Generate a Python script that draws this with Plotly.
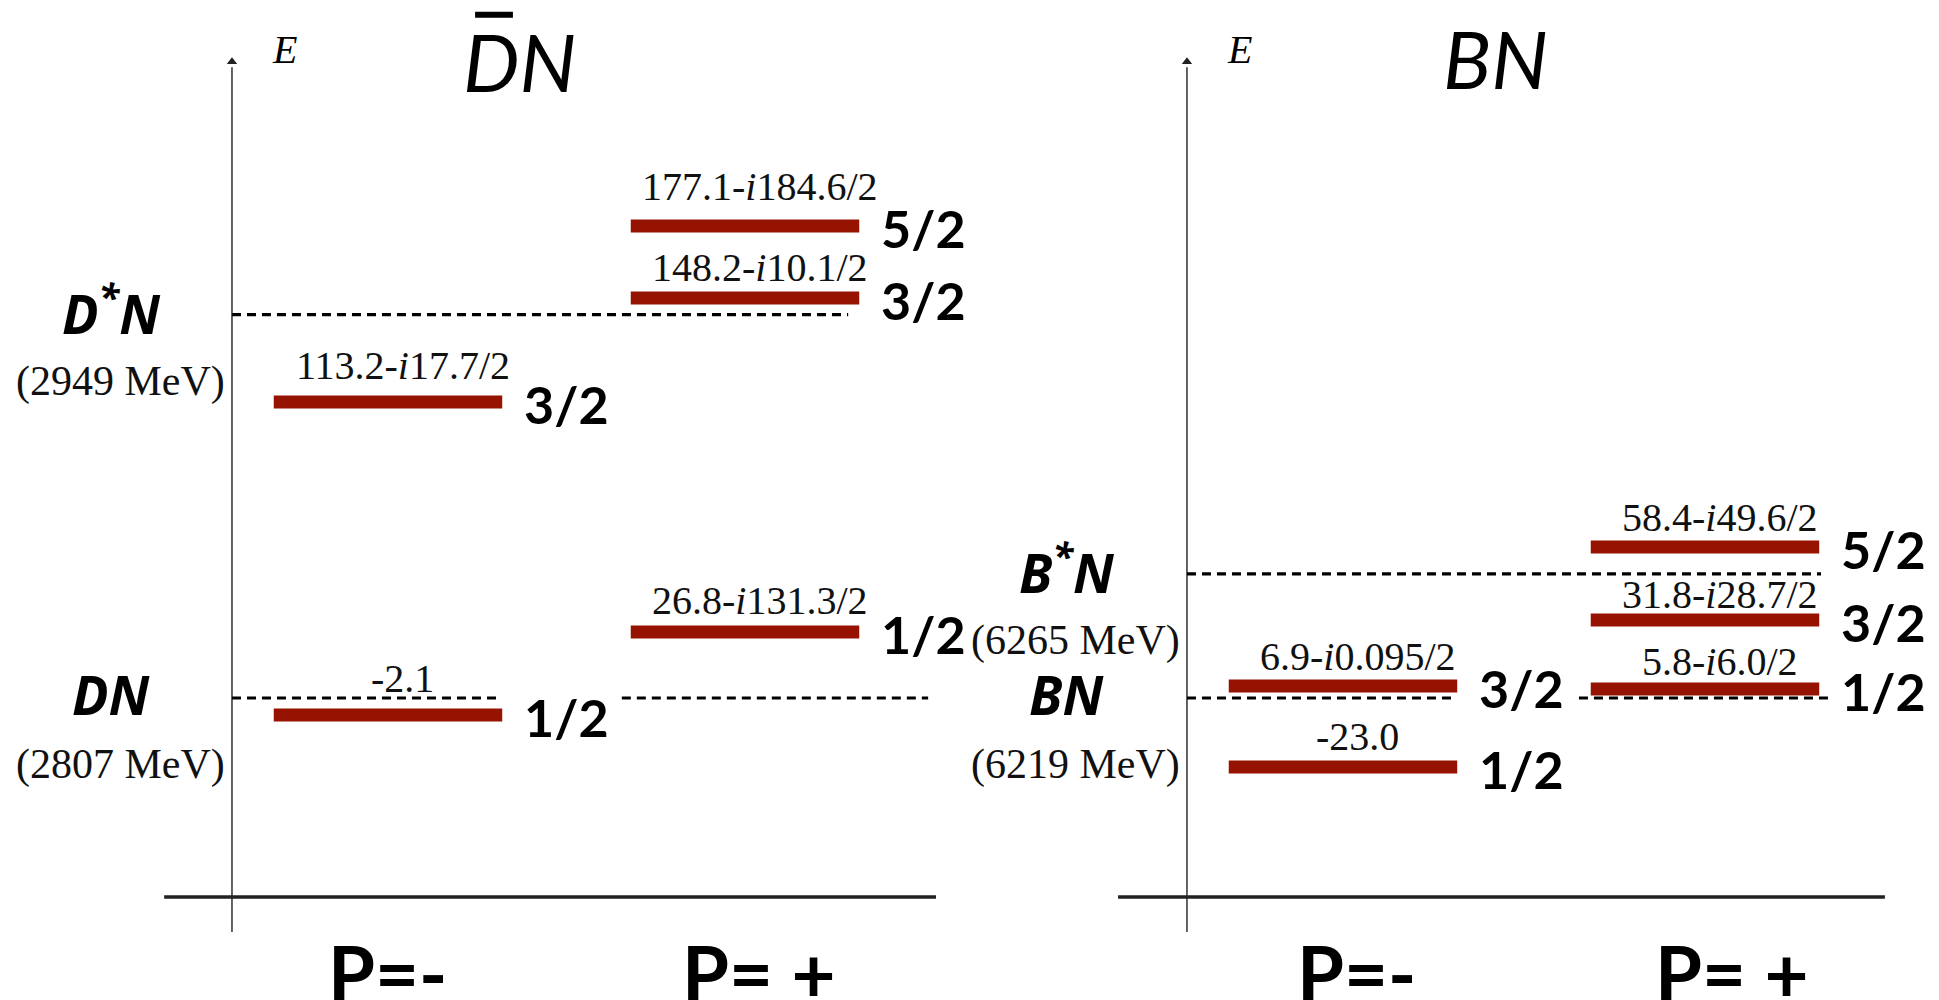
import plotly.graph_objects as go

# ---------------- data ----------------
panel_titles = ["DN", "BN"]          # left title carries an overbar on D (anti-D)
thr_names_left = ["DN", "D<sup>*</sup>N"]
thr_mass_left = ["(2807 MeV)", "(2949 MeV)"]
thr_rel_left = [0, 142]              # MeV above the DN threshold
thr_names_right = ["BN", "B<sup>*</sup>N"]
thr_mass_right = ["(6219 MeV)", "(6265 MeV)"]
thr_rel_right = [0, 46]              # MeV above the BN threshold

parity_labels = ["P=-", "P= +", "P=-", "P= +"]

# states: column index (0 = left P-, 1 = left P+, 2 = right P-, 3 = right P+)
state_col = [0, 0, 1, 1, 1, 2, 2, 3, 3, 3]
state_spin = ["3/2", "1/2", "5/2", "3/2", "1/2", "3/2", "1/2", "5/2", "3/2", "1/2"]
state_text = ["113.2-<i>i</i>17.7/2", "-2.1", "177.1-<i>i</i>184.6/2", "148.2-<i>i</i>10.1/2",
              "26.8-<i>i</i>131.3/2", "6.9-<i>i</i>0.095/2", "-23.0", "58.4-<i>i</i>49.6/2",
              "31.8-<i>i</i>28.7/2", "5.8-<i>i</i>6.0/2"]
# drawn level positions (MeV relative to lower threshold)
state_level = [109.6, -6.3, 174.8, 148.1, 24.4, 4.4, -25.6, 55.9, 28.9, 3.3]

# ---------------- layout constants ----------------
col_x = [1.0, 2.0, 3.675, 4.689]
plabel_x = [1.0, 2.039, 3.714, 4.765]
label_lift = [37, 37, 40, 31, 32, 30, 31, 30, 25, 28]   # px above bar for value labels
bar_half = 0.32
axis_x = [0.563, 3.238]
base_span = [(0.373, 2.535), (3.045, 5.193)]
y_top, y_bot, y_base = 235.6, -86.7, -73.7
RED = "#951300"
SERIF = "Liberation Serif, Times New Roman, serif"
SANS = "Lato, Open Sans, sans-serif"

fig = go.Figure()

# bars
for c, lv in zip(state_col, state_level):
    fig.add_trace(go.Scatter(x=[col_x[c] - bar_half, col_x[c] + bar_half], y=[lv, lv],
                             mode="lines", line=dict(color=RED, width=13),
                             hoverinfo="skip", showlegend=False))

annotations = []
shapes = []

for c, lv, sp, tx, lift in zip(state_col, state_level, state_spin, state_text, label_lift):
    annotations.append(dict(x=col_x[c], y=lv, text=tx, showarrow=False, xshift=15, yshift=lift,
                            font=dict(family=SERIF, size=40, color="#111"),
                            xanchor="center", yanchor="middle"))
    annotations.append(dict(x=col_x[c] + bar_half, y=lv, text="<b>" + sp + "</b>", showarrow=False,
                            xshift=20, yshift=-2, xanchor="left", yanchor="middle",
                            font=dict(family=SANS, size=52, color="black")))

# energy axes with arrowheads
for ax in axis_x:
    shapes.append(dict(type="line", x0=ax, x1=ax, y0=y_bot, y1=y_top - 2,
                       line=dict(color="#222", width=1.4)))
    fig.add_trace(go.Scatter(x=[ax], y=[y_top], mode="markers",
                             marker=dict(symbol="triangle-up", size=9, color="#222"),
                             hoverinfo="skip", showlegend=False))
    annotations.append(dict(x=ax + 0.146, y=240, text="<i>E</i>", showarrow=False,
                            font=dict(family=SERIF, size=40, color="black")))

for (x0, x1) in base_span:
    shapes.append(dict(type="line", x0=x0, x1=x1, y0=y_base, y1=y_base, xref="x", yref="y",
                       line=dict(color="#222", width=3.5)))

dash = "9px,6px"
LW = 3.2
# left thresholds
shapes.append(dict(type="line", x0=axis_x[0], x1=2.289, y0=thr_rel_left[1], y1=thr_rel_left[1],
                   line=dict(color="black", width=LW, dash=dash)))
shapes.append(dict(type="line", x0=axis_x[0], x1=1.314, y0=thr_rel_left[0], y1=thr_rel_left[0],
                   line=dict(color="black", width=LW, dash=dash)))
shapes.append(dict(type="line", x0=1.655, x1=2.513, y0=thr_rel_left[0], y1=thr_rel_left[0],
                   line=dict(color="black", width=LW, dash=dash)))
# right thresholds
shapes.append(dict(type="line", x0=axis_x[1], x1=5.014, y0=thr_rel_right[1], y1=thr_rel_right[1],
                   line=dict(color="black", width=LW, dash=dash)))
shapes.append(dict(type="line", x0=axis_x[1], x1=3.992, y0=thr_rel_right[0], y1=thr_rel_right[0],
                   line=dict(color="black", width=LW, dash=dash)))
shapes.append(dict(type="line", x0=4.336, x1=5.045, y0=thr_rel_right[0], y1=thr_rel_right[0],
                   line=dict(color="black", width=LW, dash=dash)))

# threshold labels
for ax, names, masses, rels in [(axis_x[0], thr_names_left, thr_mass_left, thr_rel_left),
                               (axis_x[1], thr_names_right, thr_mass_right, thr_rel_right)]:
    for nm, ms, rl in zip(names, masses, rels):
        annotations.append(dict(x=ax, y=rl, text="<b><i>" + nm + "</i></b>", showarrow=False,
                                xshift=-120, yshift=4, xanchor="center", yanchor="middle",
                                font=dict(family="Open Sans, sans-serif", size=54, color="black")))
        annotations.append(dict(x=ax, y=rl, text=ms, showarrow=False,
                                xshift=-111, yshift=-67, xanchor="center", yanchor="middle",
                                font=dict(family=SERIF, size=42, color="#111")))

# titles
annotations.append(dict(x=1.367, y=236, text="<i>" + panel_titles[0] + "</i>", showarrow=False,
                        font=dict(family=SANS, size=80, color="black")))
annotations.append(dict(x=4.101, y=237, text="<i>" + panel_titles[1] + "</i>", showarrow=False,
                        font=dict(family=SANS, size=80, color="black")))
# overbar on the D of the left title
shapes.append(dict(type="line", x0=1.244, x1=1.350, y0=253, y1=253,
                   line=dict(color="black", width=6)))

# parity labels
for px, pl in zip(plabel_x, parity_labels):
    annotations.append(dict(x=px, y=-102.6, text="<b>" + pl + "</b>", showarrow=False,
                            xanchor="center", yanchor="middle", yshift=3,
                            font=dict(family=SANS, size=76, color="black")))

fig.update_layout(
    width=1939, height=1000, margin=dict(l=0, r=0, t=0, b=0),
    paper_bgcolor="white", plot_bgcolor="white", showlegend=False,
    xaxis=dict(visible=False, range=[-0.0868, 5.3445], fixedrange=True),
    yaxis=dict(visible=False, range=[-111.85, 258.5], fixedrange=True),
    annotations=annotations, shapes=shapes,
)

fig.write_html("out.html", config={"displayModeBar": False},
               post_script="document.body.style.margin='0px';")
